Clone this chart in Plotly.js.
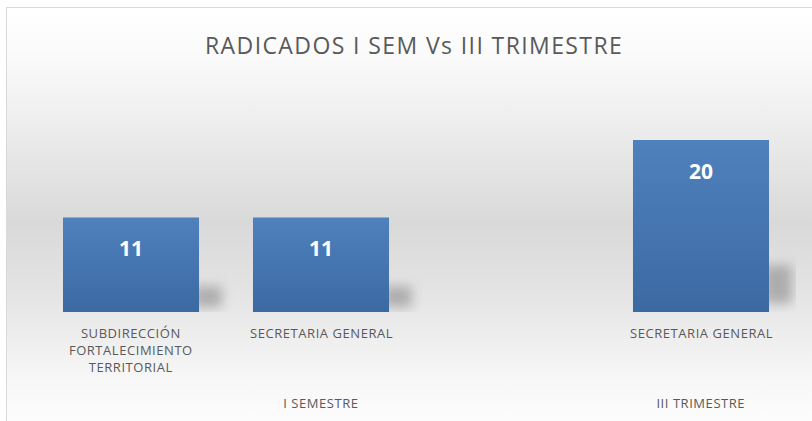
<!DOCTYPE html>
<html>
<head>
<meta charset="utf-8">
<script src="https://cdn.plot.ly/plotly-3.0.1.min.js"></script>
<style>
  html, body { margin: 0; padding: 0; background: #ffffff; }
  #wrap { position: relative; width: 812px; height: 421px; overflow: hidden; }
  #frame {
    position: absolute; left: 6px; top: 7px; width: 820px; height: 430px;
    border-left: 1.5px solid #d9d9d9; border-top: 1.5px solid #d9d9d9;
    background: linear-gradient(to bottom, #ffffff 0%, #fbfbfb 10%, #efefef 25%, #d9d9d9 50%, #e3e3e3 65%, #f6f6f6 85%, #ffffff 100%);
  }
  #chart { position: absolute; left: 0; top: 0; width: 812px; height: 421px; }
  #chart .gtitle { letter-spacing: 1.4px; }
  #chart .annotation-text.cat { letter-spacing: 0.55px; }
</style>
</head>
<body>
<div id="wrap">
  <div id="frame"></div>
  <div id="chart"></div>
</div>
<script>
// ---- data ----
const titleText = 'RADICADOS I SEM Vs III TRIMESTRE';
const groups = ['I SEMESTRE', 'I SEMESTRE', 'I SEMESTRE', 'III TRIMESTRE'];
const categories = ['SUBDIRECCIÓN<br>FORTALECIMIENTO<br>TERRITORIAL', 'SECRETARIA GENERAL', '', 'SECRETARIA GENERAL'];
const values = [11, 11, null, 20];

// ---- build ----
const xs = categories.map((c, i) => i);
const barWidth = 0.716;
const labelFont = 'Open Sans, sans-serif';
const textGrey = '#595959';

const trace = {
  type: 'bar',
  x: xs,
  y: values,
  width: barWidth,
  marker: { color: '#4674b0', line: { width: 0 } },
  hoverinfo: 'skip'
};

const annotations = [];
// value labels
values.forEach((v, i) => {
  if (v === null) return;
  annotations.push({
    x: xs[i], y: v, xref: 'x', yref: 'y',
    text: '<b>' + v + '</b>', showarrow: false,
    yanchor: 'middle', yshift: -31,
    font: { family: labelFont, size: 21, color: '#ffffff' }
  });
});
const firstCatAnn = annotations.length;
// category labels
categories.forEach((c, i) => {
  if (!c) return;
  annotations.push({
    x: xs[i], y: 0, xref: 'x', yref: 'y',
    text: c, showarrow: false, yanchor: 'top', yshift: -10,
    align: 'center',
    font: { family: labelFont, size: 13, color: textGrey }
  });
});
// group labels
const uniqueGroups = [...new Set(groups)];
uniqueGroups.forEach(g => {
  const idx = xs.filter(i => groups[i] === g);
  const center = (Math.min(...idx) + Math.max(...idx)) / 2;
  annotations.push({
    x: center, y: 0, xref: 'x', yref: 'y',
    text: g, showarrow: false, yanchor: 'middle', yshift: -91,
    font: { family: labelFont, size: 13, color: textGrey }
  });
});

// soft shadow to the right of each bar (derived from data)
const shapes = [];
values.forEach((v, i) => {
  if (v === null) return;
  const right = xs[i] + barWidth / 2;
  const h = v * 0.32;
  shapes.push({
    type: 'rect', xref: 'x', yref: 'y', layer: 'below',
    x0: right - 0.03, x1: right + 0.12, y0: h * 0.15, y1: h * 0.85,
    fillcolor: '#777777', opacity: 0.5, line: { width: 0 }
  });
});

const layout = {
  width: 812, height: 421,
  margin: { l: 36, r: 16, t: 97, b: 109 },
  paper_bgcolor: 'rgba(0,0,0,0)',
  plot_bgcolor: 'rgba(0,0,0,0)',
  title: {
    text: titleText,
    font: { family: labelFont, size: 23, color: textGrey },
    x: 0.51, xanchor: 'center', y: 0.89, yanchor: 'middle'
  },
  xaxis: {
    range: [-0.5, xs.length - 0.5],
    showticklabels: false, showgrid: false, zeroline: false, showline: false, ticks: ''
  },
  yaxis: {
    range: [0, 25],
    showticklabels: false, showgrid: false, zeroline: false, showline: false, ticks: ''
  },
  showlegend: false,
  annotations: annotations,
  shapes: shapes
};

Plotly.newPlot('chart', [trace], layout, { displayModeBar: false, staticPlot: true }).then(gd => {
  const svg = gd.querySelector('svg.main-svg');
  const ns = 'http://www.w3.org/2000/svg';
  let defs = svg.querySelector('defs');
  if (!defs) { defs = document.createElementNS(ns, 'defs'); svg.insertBefore(defs, svg.firstChild); }
  // vertical gradient on the bars
  const grad = document.createElementNS(ns, 'linearGradient');
  grad.setAttribute('id', 'barGrad');
  grad.setAttribute('x1', '0'); grad.setAttribute('y1', '0');
  grad.setAttribute('x2', '0'); grad.setAttribute('y2', '1');
  [['0%', '#4f81bd'], ['100%', '#3c69a2']].forEach(([o, c]) => {
    const s = document.createElementNS(ns, 'stop');
    s.setAttribute('offset', o); s.setAttribute('stop-color', c);
    grad.appendChild(s);
  });
  defs.appendChild(grad);
  gd.querySelectorAll('.bars .point path').forEach(p => { p.style.fill = 'url(#barGrad)'; });
  // blur filter for the shadows
  const filt = document.createElementNS(ns, 'filter');
  filt.setAttribute('id', 'shBlur');
  filt.setAttribute('x', '-100%'); filt.setAttribute('y', '-100%');
  filt.setAttribute('width', '300%'); filt.setAttribute('height', '300%');
  const gb = document.createElementNS(ns, 'feGaussianBlur');
  gb.setAttribute('stdDeviation', '6');
  filt.appendChild(gb);
  defs.appendChild(filt);
  gd.querySelectorAll('.shapelayer path').forEach(p => {
    p.setAttribute('filter', 'url(#shBlur)');
    p.style.filter = 'url(#shBlur)';
  });
  // mark category / group label texts for letter spacing
  gd.querySelectorAll('.annotation').forEach((a, k) => {
    if (k >= firstCatAnn) {
      const t = a.querySelector('.annotation-text');
      if (t) t.classList.add('cat');
    }
  });
});
</script>
</body>
</html>
